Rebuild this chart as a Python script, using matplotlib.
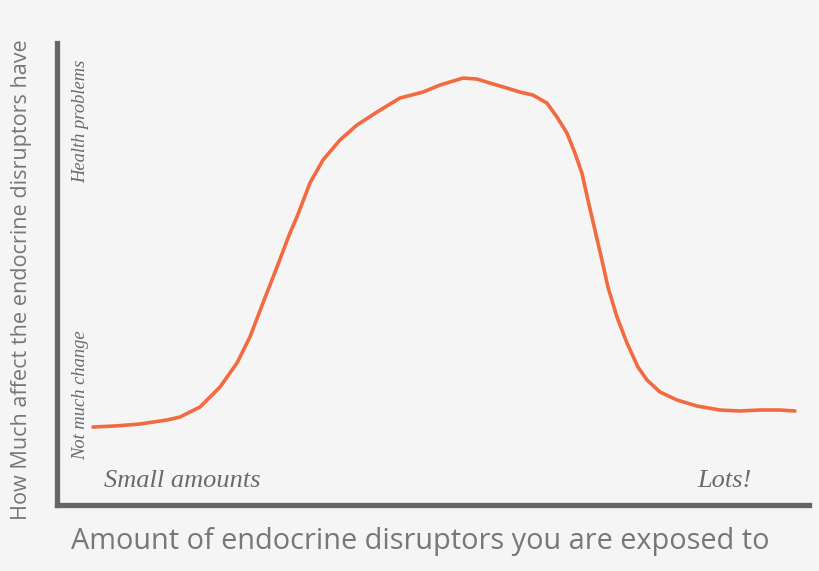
import matplotlib.pyplot as plt

# exposure (0-100) vs effect (0-100)
exposure = [4.79, 7.71, 11.04, 14.63, 16.36, 19.02, 21.68, 23.94, 25.66, 27.39,
            29.26, 30.98, 31.91, 33.64, 35.37, 37.63, 39.89, 42.55, 45.61, 48.67,
            50.93, 53.99, 55.85, 57.58, 59.84, 61.57, 63.30, 65.16, 66.49, 67.82,
            68.88, 69.81, 70.61, 71.54, 72.47, 73.27, 74.47, 75.80, 77.26, 78.46,
            80.19, 82.45, 85.11, 88.16, 90.82, 93.48, 96.14, 98.14]
effect = [16.88, 17.10, 17.53, 18.40, 19.05, 21.21, 25.54, 30.74, 36.36, 43.72,
          51.52, 58.87, 62.34, 69.70, 74.68, 79.00, 82.25, 85.06, 88.10, 89.39,
          90.91, 92.42, 92.21, 91.34, 90.26, 89.39, 88.74, 87.01, 83.98, 80.52,
          76.19, 71.86, 66.02, 59.52, 53.03, 47.19, 40.69, 35.06, 29.87, 27.06,
          24.46, 22.73, 21.43, 20.56, 20.35, 20.56, 20.56, 20.35]

x_label = "Amount of endocrine disruptors you are exposed to"
y_label = "How Much affect the endocrine disruptors have"
x_low, x_high = "Small amounts", "Lots!"
y_low, y_high = "Not much change", "Health problems"

BG = "#f5f5f5"
AXIS = "#666666"
LINE = "#f26a40"
TEXT = "#777777"
SCRIPT = "#6a6a6a"

fig = plt.figure(figsize=(8.2, 5.71), dpi=100, facecolor=BG)
ax = fig.add_axes([0.0695, 0.1156, 0.917, 0.809], facecolor=BG)

ax.plot(exposure, effect, color=LINE, lw=2.6, solid_capstyle="round",
        solid_joinstyle="round")

ax.set_xlim(0, 100)
ax.set_ylim(0, 100)
ax.set_xticks([])
ax.set_yticks([])
for side in ["top", "right"]:
    ax.spines[side].set_visible(False)
for side in ["left", "bottom"]:
    ax.spines[side].set_color(AXIS)
    ax.spines[side].set_linewidth(3.8)
    ax.spines[side].set_capstyle("projecting")

# axis titles
fig.text(0.512, 0.052, x_label, ha="center", va="center", fontsize=20.8,
         family="Open Sans", color=TEXT)
fig.text(0.026, 0.51, y_label, ha="center", va="center", rotation=90,
         fontsize=15.6, family="Open Sans", color=TEXT)

# hand-written style annotations
script = dict(family="Liberation Serif", style="italic", color=SCRIPT)
ax.text(6.3, 5.2, x_low, ha="left", va="center", fontsize=19, **script)
ax.text(88.8, 5.2, x_high, ha="center", va="center", fontsize=19, **script)
ax.text(3.1, 23.8, y_low, ha="center", va="center", rotation=90,
        fontsize=13.3, **script)
ax.text(3.1, 83.1, y_high, ha="center", va="center", rotation=90,
        fontsize=13.3, **script)

fig.savefig("out.png", dpi=100, facecolor=BG)
